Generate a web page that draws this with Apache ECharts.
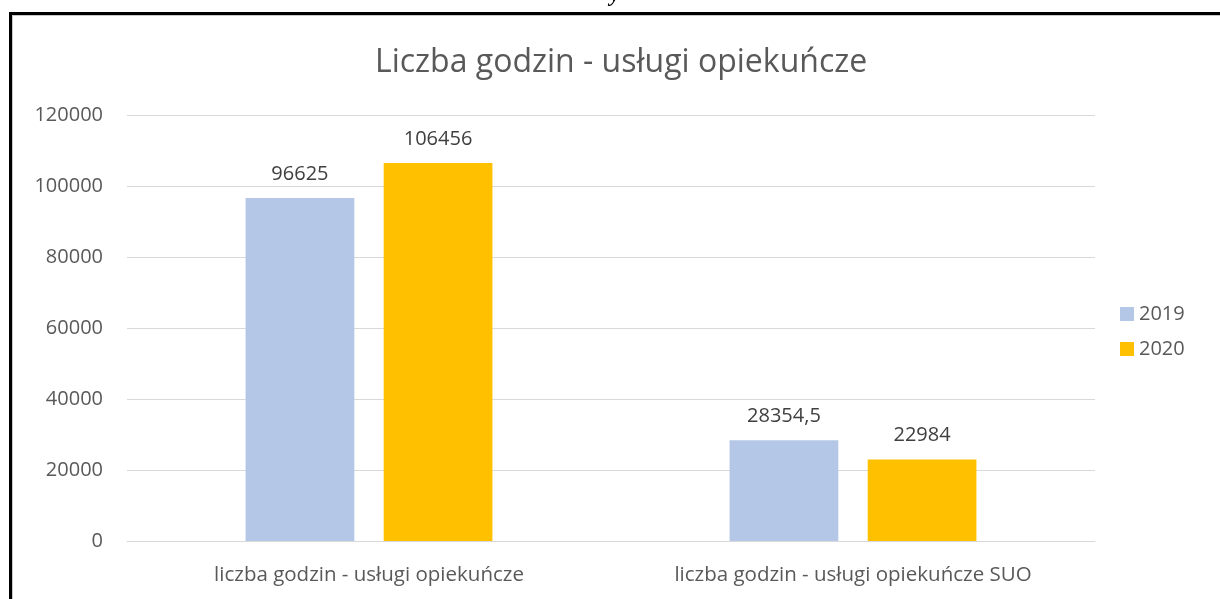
<!DOCTYPE html>
<html>
<head>
<meta charset="utf-8">
<script src="https://cdn.jsdelivr.net/npm/echarts@6/dist/echarts.min.js"></script>
<style>
    html, body { margin: 0; padding: 0; background: #fff; }
    #chart { width: 1220px; height: 599px; }
</style>
</head>
<body>
<div id="chart"></div>
<script>
var categories = ['liczba godzin - usługi opiekuńcze', 'liczba godzin - usługi opiekuńcze SUO'];
var years = ['2019', '2020'];
var values2019 = [96625, 28354.5];
var values2020 = [106456, 22984];
var yTicks = [0, 20000, 40000, 60000, 80000, 100000, 120000];

var colors = ['#b4c7e7', '#ffc000'];
var font = 'Open Sans';

function fmt(v) {
    return String(v.value).replace('.', ',');
}

var myChart = echarts.init(document.getElementById('chart'));
var option = {
    backgroundColor: '#fff',
    color: colors,
    animation: false,
    title: {
        text: 'Liczba godzin - usługi opiekuńcze',
        left: 370,
        top: 42,
        textStyle: {
            color: '#595959',
            fontFamily: font,
            fontWeight: 'normal',
            fontSize: 32
        }
    },
    legend: {
        data: years,
        orient: 'vertical',
        left: 1115,
        top: 299,
        itemWidth: 14,
        itemHeight: 14,
        itemGap: 15,
        icon: 'rect',
        textStyle: {
            color: '#595959',
            fontFamily: font,
            fontSize: 20
        }
    },
    grid: {
        left: 127,
        right: 125,
        top: 115,
        bottom: 58,
        containLabel: false
    },
    xAxis: [{
        type: 'category',
        data: categories,
        axisTick: { show: false },
        axisLine: {
            show: true,
            lineStyle: { color: '#d9d9d9' }
        },
        axisLabel: {
            color: '#595959',
            fontFamily: font,
            fontSize: 20.5,
            margin: 24
        }
    }],
    yAxis: [{
        type: 'value',
        min: yTicks[0],
        max: yTicks[yTicks.length - 1],
        interval: 20000,
        axisLine: { show: false },
        axisTick: { show: false },
        splitLine: {
            lineStyle: { color: '#d9d9d9', width: 1 }
        },
        axisLabel: {
            color: '#595959',
            fontFamily: font,
            fontSize: 20,
            margin: 24,
            formatter: function(v) { return String(v); }
        }
    }],
    series: [{
        name: years[0],
        type: 'bar',
        data: values2019,
        barGap: '27%',
        barCategoryGap: '49%',
        label: {
            show: true,
            position: 'top',
            distance: 14,
            color: '#404040',
            fontFamily: font,
            fontSize: 20,
            formatter: fmt
        }
    }, {
        name: years[1],
        type: 'bar',
        data: values2020,
        barGap: '27%',
        barCategoryGap: '49%',
        label: {
            show: true,
            position: 'top',
            distance: 14,
            color: '#404040',
            fontFamily: font,
            fontSize: 20,
            formatter: fmt
        }
    }],
    graphic: [
        { type: 'rect', shape: { x: 9, y: 12, width: 1211, height: 3 }, style: { fill: '#000' }, silent: true },
        { type: 'rect', shape: { x: 12, y: 15, width: 1208, height: 1 }, style: { fill: '#c8c8c8' }, silent: true },
        { type: 'rect', shape: { x: 9, y: 12, width: 3, height: 587 }, style: { fill: '#000' }, silent: true },
        { type: 'rect', shape: { x: 12, y: 15, width: 1, height: 584 }, style: { fill: '#c8c8c8' }, silent: true },
        { type: 'text', left: 610, top: -16, style: { text: 'y', fill: '#000', font: 'bold italic 22px "Liberation Serif"' }, silent: true }
    ]
};
myChart.setOption(option, true);
</script>
</body>
</html>
